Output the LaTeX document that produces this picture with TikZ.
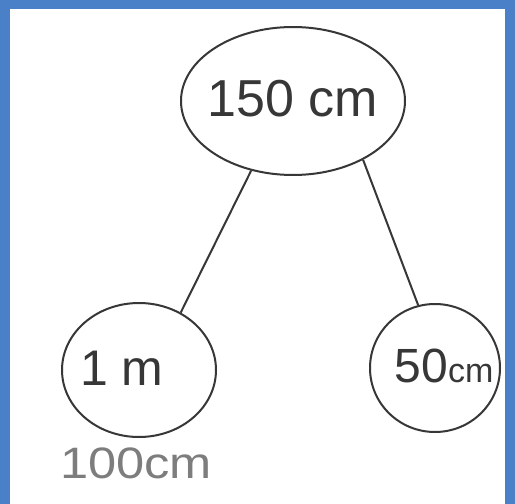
\documentclass[tikz,border=0pt]{standalone}
\usepackage{fontspec}
\setmainfont{Liberation Sans}
\usetikzlibrary{shapes.geometric}
\definecolor{frameblue}{RGB}{74,128,200}
\definecolor{ink}{RGB}{55,55,55}
\definecolor{pencil}{RGB}{125,125,125}
\tikzset{
  bubble/.style={draw=ink, line width=2pt, ellipse, inner sep=0pt},
  link/.style={draw=ink, line width=2pt},
  word/.style={text=ink, inner sep=0pt}
}
\begin{document}
\begin{tikzpicture}[x=1pt,y=-1pt]
  % page and blue frame
  \useasboundingbox (0,0) rectangle (515,504);
  \fill[frameblue] (0,0) rectangle (515,504);
  \fill[white] (10,9) rectangle (505,504);

  % the three bubbles
  \node[bubble, minimum width=224pt, minimum height=148pt] (top) at (293,101) {};
  \node[bubble, minimum width=154pt, minimum height=134pt] (left) at (139,370) {};
  \node[bubble, minimum width=130pt, minimum height=128pt] (right) at (435,368) {};

  % texts
  \node[word, font=\fontsize{52}{52}\selectfont] (ttop) at (293,99) {150 cm};
  \node[word, font=\fontsize{50}{50}\selectfont] (tleft) at (122,368) {1 m};
  \node[word, font=\fontsize{48}{48}\selectfont] (tright) at (444,366) {50{\fontsize{34}{34}\selectfont cm}};
  \node[word, text=pencil, font=\fontsize{44}{44}\selectfont, xscale=1.15] (tcm) at (136,463) {100cm};

  % connectors
  \draw[link] (top.-121) -- (left.54);
  \draw[link] (top.-40) -- (right.105);
\end{tikzpicture}
\end{document}
